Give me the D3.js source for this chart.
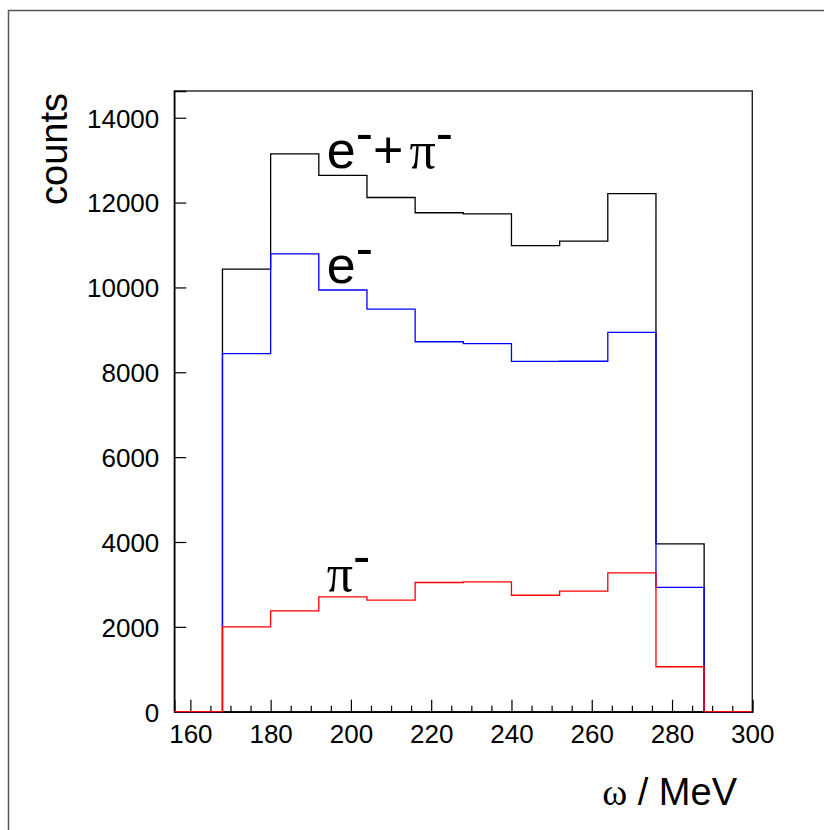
<!DOCTYPE html>
<html>
<head>
<meta charset="utf-8">
<script src="https://cdn.jsdelivr.net/npm/d3@7"></script>
<style>
  html, body { margin: 0; padding: 0; background: #fff; }
  svg { display: block; }
</style>
</head>
<body>
<script>
// ---- data ----
const binEdges = [156, 168, 180, 192, 204, 216, 228, 240, 252, 264, 276, 288, 300];
const totalCounts    = [0, 10430, 13150, 12640, 12120, 11760, 11735, 10985, 11090, 12210, 3955, 0];
const electronCounts = [0, 8440, 10790, 9940, 9490, 8720, 8675, 8255, 8260, 8940, 2930, 0];
const pionCounts     = [0, 2000, 2375, 2705, 2630, 3045, 3060, 2745, 2840, 3270, 1060, 0];
const xTicks = [160, 180, 200, 220, 240, 260, 280, 300];
const yTicks = [0, 2000, 4000, 6000, 8000, 10000, 12000, 14000];
const xDomain = [156, 300];
const yDomain = [0, 14630];

const W = 824, H = 830;
const pLeft = 174.3, pRight = 752.3, pTop = 91, pBottom = 711.7;

const svg = d3.select("body").append("svg").attr("width", W).attr("height", H);
svg.append("rect").attr("width", W).attr("height", H).attr("fill", "#fff");

// outer pad border (left & top visible)
svg.append("path").attr("d", `M8.5,${H} V10.5 H${W}`)
  .attr("fill", "none").attr("stroke", "#555").attr("stroke-width", 1.5);

const x = d3.scaleLinear().domain(xDomain).range([pLeft, pRight]);
const y = d3.scaleLinear().domain(yDomain).range([pBottom, pTop]);

const SANS = "'Liberation Sans', Arial, Helvetica, sans-serif";
const SERIF = "'Liberation Serif', 'Times New Roman', serif";

// frame
svg.append("rect").attr("x", pLeft).attr("y", pTop)
  .attr("width", pRight - pLeft).attr("height", pBottom - pTop)
  .attr("fill", "none").attr("stroke", "#222").attr("stroke-width", 1.4);

// x axis (ticks inward)
const xMinor = d3.range(160, 301, 5).filter(v => v % 20 !== 0);
const gx = svg.append("g").attr("transform", `translate(0,${pBottom})`);
gx.call(d3.axisBottom(x).tickValues(xMinor).tickSize(-6).tickFormat(""))
  .call(g => g.select(".domain").remove());
gx.append("g").call(d3.axisBottom(x).tickValues(xTicks).tickSize(-12).tickFormat(d3.format("d")))
  .call(g => g.select(".domain").attr("stroke", "#000").attr("stroke-width", 1.4))
  .call(g => g.selectAll("text").attr("font-family", SANS).attr("font-size", 26)
      .attr("fill", "#000").attr("y", 0).attr("dy", 31));
gx.selectAll("line").attr("stroke", "#000").attr("stroke-width", 1.2);

// y axis
const gy = svg.append("g").attr("transform", `translate(${pLeft},0)`);
gy.call(d3.axisLeft(y).tickValues(yTicks).tickSize(-12).tickFormat(d3.format("d")))
  .call(g => g.select(".domain").attr("stroke", "#000").attr("stroke-width", 1.4))
  .call(g => g.selectAll("line").attr("stroke", "#000").attr("stroke-width", 1.2))
  .call(g => g.selectAll("text").attr("font-family", SANS).attr("font-size", 26)
      .attr("fill", "#000").attr("x", -15).attr("dy", "0.36em"));

// histograms
function stepPoints(counts) {
  const pts = counts.map((c, i) => [binEdges[i], c]);
  pts.push([binEdges[binEdges.length - 1], counts[counts.length - 1]]);
  return pts;
}
const line = d3.line().x(d => x(d[0])).y(d => y(d[1])).curve(d3.curveStepAfter);
const series = [
  { counts: totalCounts, color: "#000000" },
  { counts: electronCounts, color: "#0000ff" },
  { counts: pionCounts, color: "#ff0000" }
];
svg.append("g").selectAll("path").data(series).join("path")
  .attr("d", d => line(stepPoints(d.counts)))
  .attr("fill", "none").attr("stroke", d => d.color).attr("stroke-width", 1.3);

// labels
const lab1 = svg.append("text").attr("x", x(194)).attr("y", y(12814))
  .attr("font-family", SANS).attr("font-size", 52).attr("fill", "#000");
lab1.append("tspan").text("e");
lab1.append("tspan").attr("dy", -17).text("-");
lab1.append("tspan").attr("dy", 17).text("+");
lab1.append("tspan").attr("dx", 6).attr("font-family", SERIF).text("π");
lab1.append("tspan").attr("dy", -17).text("-");

const lab2 = svg.append("text").attr("x", x(194)).attr("y", y(10103))
  .attr("font-family", SANS).attr("font-size", 52).attr("fill", "#000");
lab2.append("tspan").text("e");
lab2.append("tspan").attr("dy", -17).text("-");

const lab3 = svg.append("text").attr("x", x(194)).attr("y", y(2852))
  .attr("font-family", SANS).attr("font-size", 52).attr("fill", "#000");
lab3.append("tspan").attr("font-family", SERIF).text("π");
lab3.append("tspan").attr("dy", -17).text("-");

// axis titles
svg.append("text")
  .attr("transform", `translate(67,93) rotate(-90)`)
  .attr("text-anchor", "end")
  .attr("font-family", SANS).attr("font-size", 38).attr("fill", "#000")
  .text("counts");

const xt = svg.append("text").attr("x", 737).attr("y", 805)
  .attr("text-anchor", "end")
  .attr("font-family", SANS).attr("font-size", 38).attr("fill", "#000");
xt.append("tspan").attr("font-family", SERIF).text("ω");
xt.append("tspan").text(" / MeV");
</script>
</body>
</html>
